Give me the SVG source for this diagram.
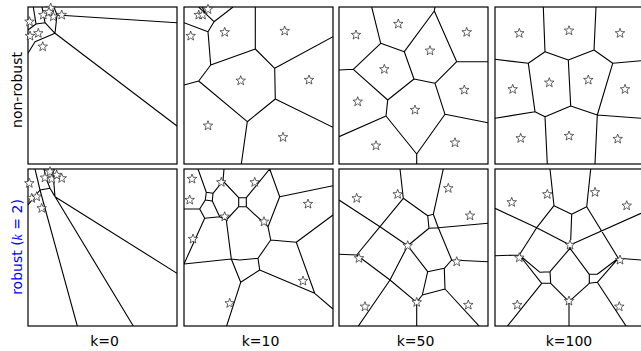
<svg xmlns="http://www.w3.org/2000/svg" xmlns:xlink="http://www.w3.org/1999/xlink" width="641" height="351" viewBox="0 0 641 351">
<style>
.frame{fill:none;stroke:#000;stroke-width:1.2}
.edge{fill:none;stroke:#000;stroke-width:1.1;stroke-linejoin:round}
.star{fill:#fff;stroke:#222;stroke-width:0.7}
.lbl{font-family:"DejaVu Sans","Liberation Sans",sans-serif;font-size:14px;fill:#000}
.row{font-family:"DejaVu Sans","Liberation Sans",sans-serif;font-size:14px}
</style>
<defs>
<path id="s" class="star" d="M0,-5 L1.23,-1.7 L4.76,-1.55 L2,0.65 L2.94,4.05 L0,2.1 L-2.94,4.05 L-2,0.65 L-4.76,-1.55 L-1.23,-1.7 Z"/>
<clipPath id="c1"><rect x="28" y="7" width="149" height="157"/></clipPath>
<clipPath id="c2"><rect x="184" y="7" width="149" height="157"/></clipPath>
<clipPath id="c3"><rect x="339" y="7" width="149" height="157"/></clipPath>
<clipPath id="c4"><rect x="495" y="7" width="149" height="157"/></clipPath>
<clipPath id="c5"><rect x="28" y="169" width="149" height="157"/></clipPath>
<clipPath id="c6"><rect x="184" y="169" width="149" height="157"/></clipPath>
<clipPath id="c7"><rect x="339" y="169" width="149" height="157"/></clipPath>
<clipPath id="c8"><rect x="495" y="169" width="149" height="157"/></clipPath>
</defs>
<rect width="641" height="351" fill="#fff"/>

<g id="connectors">
<g clip-path="url(#c1)" class="edge">
<path d="M33.3,7 L36,24 L28,30 M36,24 L45,22.7 L55,33.3 L177,126 M55,33.3 L43.3,38.3 L35,41.7 L28,53.3 M45,22.7 L42,7 M55,33.3 L57,15 L177,22.7 M57,15 L54,7"/>
</g>
<g clip-path="url(#c2)" class="edge">
<path d="M255.3,7 L255.3,49 L274.7,68.3 L333,36.7 M274.7,68.3 L275.3,99 L333,127.3 M275.3,99 L247.3,121.7 L241.3,164 M247.3,121.7 L198.7,81 L184,85 M198.7,81 L210.7,65 L255.3,49 M210.7,65 L208,31.7 L184,22.7 M208,31.7 L214,21.7 L233,7 M214,21.7 L198.7,7 M206,14 L202,7"/>
</g>
<g clip-path="url(#c3)" class="edge">
<path d="M371.7,7 L380.7,43.3 L404.3,51.7 L434.3,11 L435,7 M434.3,11 L456.7,61.7 L488,61.7 M456.7,61.7 L435,83.3 L414,79 L404.3,51.7 M414,79 L387.7,100 L353.3,69.3 L380.7,43.3 M353.3,69.3 L339,70 M387.7,100 L386,116 L339,136.7 M386,116 L416.7,154 L416.7,164 M416.7,154 L445,114.3 L488,122.7 M445,114.3 L435,83.3"/>
</g>
<g clip-path="url(#c4)" class="edge">
<path d="M543.3,7 L545,51.7 L568.3,60 L594,50 L596,7 M594,50 L612.7,63.3 L641,60.7 M545,51.7 L528.3,63.3 L495,59.3 M528.3,63.3 L535,111.7 L545,116.7 L570.7,106 L597.3,115 L612.7,63.3 M568.3,60 L570.7,106 M535,111.7 L495,118.3 M597.3,115 L641,118.3 M545,116.7 L547.3,164 M597.3,115 L595,164"/>
</g>
<g clip-path="url(#c5)" class="edge">
<path d="M35,169 L40,190 L77.3,326 M50,188.3 L133.3,326 M55,196.7 L177,273.3 M40,190 L50,188.3 L55,196.7 M28,205 L33.3,198.3 L40,190 M55,196.7 L53,173 L54,169 M50,188.3 L46,178 L44,169"/>
</g>
<g clip-path="url(#c6)" class="edge">
<path d="M198,169 L206.3,192.3 M224,169 L223,181 L213,193.3 M223,181 L238.7,197.7 M206.3,192.3 L213,193.3 L212.3,201 L205.3,200 Z M238.7,197.7 L246.3,197.7 L246.3,206.7 L238.7,206.7 Z M246.3,197.7 L269.7,169 L279.7,196.7 L333,185.7 M279.7,196.7 L268,226.7 M246.3,206.7 L268,226.7 L270.7,240 L296.3,242.3 L333,215 M296.3,242.3 L314.7,293.3 L333,309 M314.7,293.3 L259.7,270 L258,258.3 L270.7,240 M258,258.3 L239.7,260 L231.3,259 L184,264 M231.3,259 L240.7,282.3 L259.7,270 M240.7,282.3 L226.3,327 M231.3,259 L226.3,220 L238.7,206.7 M226.3,220 L219.7,216.7 L212.3,201 M219.7,216.7 L204.7,218.3 L199.7,209 L184,209 M199.7,209 L205.3,200 M204.7,218.3 L184,264"/>
</g>
<g clip-path="url(#c7)" class="edge">
<path d="M400,169 L403.3,198.3 L380,226.7 L339,200 M380,226.7 L407.7,245.7 M403.3,198.3 L427.7,215.7 L429,228.3 L438.3,227.7 L433.3,214.3 L427.7,215.7 M433.3,214.3 L443.3,169 M438.3,227.7 L488,223.3 M429,228.3 L407.7,245.7 M438.3,227.7 L451.7,260 L488,261.7 M451.7,260 L444.3,268.3 L427.7,271.7 L422.3,295 L445,289 L444.3,268.3 M407.7,245.7 L427.7,271.7 M445,289 L480,327 M422.3,295 L416.7,302.3 L416.7,327 M416.7,302.3 L390,280 L356.7,255 L339,254.3 M356.7,255 L380,226.7 M390,280 L407.7,245.7 M390,280 L357.7,327"/>
</g>
<g clip-path="url(#c8)" class="edge">
<path d="M550,169 L554,205.7 L571.7,214.3 L586.7,206.7 L590.7,169 M571.7,214.3 L570.7,240 M495,208.3 L536.7,227.7 L570,245 L641,213.3 M554,205.7 L536.7,227.7 L519.3,255 L495,255.7 M519.3,255 L540,272.3 L550,271.7 L550.7,283.3 L541.7,283.3 Z M550,271.7 L570,248.3 M586.7,206.7 L618.3,258.3 L641,260 M618.3,258.3 L597.3,274.3 L589.3,274.3 L589.3,283.3 L597.3,282.3 Z M570,248.3 L589.3,274.3 M570,245 L570,248.3 M541.7,283.3 L506.7,327 M550.7,283.3 L569,301.7 L589.3,283.3 M569,301.7 L569,327 M597.3,282.3 L626.7,327"/>
</g>
</g>

<g id="frames">
<rect class="frame" x="28" y="7" width="149" height="157"/>
<rect class="frame" x="184" y="7" width="149" height="157"/>
<rect class="frame" x="339" y="7" width="149" height="157"/>
<rect class="frame" x="495" y="7" width="149" height="157"/>
<rect class="frame" x="28" y="169" width="149" height="157"/>
<rect class="frame" x="184" y="169" width="149" height="157"/>
<rect class="frame" x="339" y="169" width="149" height="157"/>
<rect class="frame" x="495" y="169" width="149" height="157"/>
</g>

<g id="stars-p1">
<use href="#s" x="29.5" y="21.7"/><use href="#s" x="30" y="36"/><use href="#s" x="38.3" y="33.3"/><use href="#s" x="42.7" y="46.7"/><use href="#s" x="43.3" y="15"/><use href="#s" x="50.7" y="8"/><use href="#s" x="53.3" y="16.7"/><use href="#s" x="61.7" y="15"/><use href="#s" x="49" y="12"/>
</g>
<g id="stars-p2">
<use href="#s" x="208" y="9.3"/><use href="#s" x="198.7" y="15"/><use href="#s" x="202.5" y="15"/><use href="#s" x="190.7" y="36"/><use href="#s" x="224.7" y="32.3"/><use href="#s" x="284.7" y="31"/><use href="#s" x="240.7" y="80.7"/><use href="#s" x="309" y="80"/><use href="#s" x="208" y="125.7"/><use href="#s" x="283" y="137.3"/>
</g>
<g id="stars-p3">
<use href="#s" x="356" y="35"/><use href="#s" x="398.3" y="24"/><use href="#s" x="466.7" y="32.3"/><use href="#s" x="430" y="50.7"/><use href="#s" x="384.3" y="69.3"/><use href="#s" x="464.3" y="90"/><use href="#s" x="357.7" y="101.7"/><use href="#s" x="415" y="110"/><use href="#s" x="376" y="145.7"/><use href="#s" x="455" y="142.7"/>
</g>
<g id="stars-p4">
<use href="#s" x="519.3" y="33.3"/><use href="#s" x="569" y="30.7"/><use href="#s" x="620" y="33.3"/><use href="#s" x="512.7" y="89.3"/><use href="#s" x="549.3" y="82.7"/><use href="#s" x="588.3" y="80"/><use href="#s" x="625" y="89.3"/><use href="#s" x="520.7" y="138.3"/><use href="#s" x="569" y="136"/><use href="#s" x="617.7" y="139"/>
</g>
<g id="stars-p5">
<use href="#s" x="29.3" y="183.3"/><use href="#s" x="31.7" y="198.3"/><use href="#s" x="36.7" y="196.7"/><use href="#s" x="41.7" y="208.3"/><use href="#s" x="45" y="177.7"/><use href="#s" x="50" y="171.7"/><use href="#s" x="51.7" y="179"/><use href="#s" x="61.7" y="178.3"/><use href="#s" x="56.7" y="175"/>
</g>
<g id="stars-p6">
<use href="#s" x="192" y="179"/><use href="#s" x="221.3" y="182.3"/><use href="#s" x="254.7" y="182.3"/><use href="#s" x="189.7" y="200"/><use href="#s" x="224.7" y="216.7"/><use href="#s" x="264" y="221.7"/><use href="#s" x="308" y="204"/><use href="#s" x="193" y="239"/><use href="#s" x="303" y="281"/><use href="#s" x="229.7" y="303.3"/>
</g>
<g id="stars-p7">
<use href="#s" x="356.7" y="198.3"/><use href="#s" x="397.7" y="194.3"/><use href="#s" x="448.3" y="188.3"/><use href="#s" x="470" y="215.7"/><use href="#s" x="407.7" y="245.7"/><use href="#s" x="359" y="258.3"/><use href="#s" x="456.7" y="261.7"/><use href="#s" x="416.7" y="302.3"/><use href="#s" x="365" y="306.7"/><use href="#s" x="468.3" y="305"/>
</g>
<g id="stars-p8">
<use href="#s" x="511.7" y="202.3"/><use href="#s" x="547.3" y="194.3"/><use href="#s" x="595" y="192.3"/><use href="#s" x="626.7" y="205.7"/><use href="#s" x="570" y="245"/><use href="#s" x="519.3" y="257.7"/><use href="#s" x="620" y="260"/><use href="#s" x="517.3" y="305"/><use href="#s" x="569" y="301"/><use href="#s" x="619.3" y="306.7"/>
</g>

<g id="labels">
<text class="row" fill="#000" transform="translate(21.5,90) rotate(-90)" text-anchor="middle">non-robust</text>
<text class="row" fill="#0000ff" transform="translate(21.5,247) rotate(-90)" text-anchor="middle">robust (<tspan font-family="'Liberation Serif',serif" font-style="italic">k</tspan> = 2)</text>
<text class="lbl" x="104.5" y="346" text-anchor="middle">k=0</text>
<text class="lbl" x="260.5" y="346" text-anchor="middle">k=10</text>
<text class="lbl" x="415.5" y="346" text-anchor="middle">k=50</text>
<text class="lbl" x="569" y="346" text-anchor="middle">k=100</text>
</g>
</svg>
